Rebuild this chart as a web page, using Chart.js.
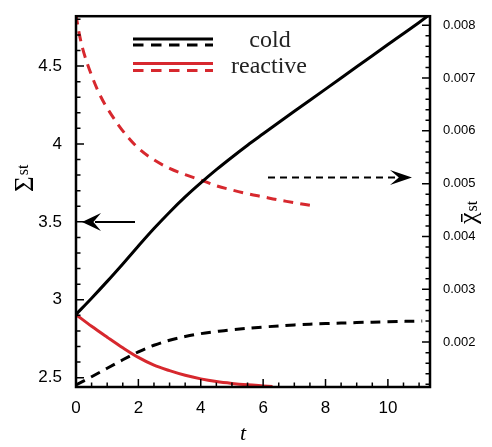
<!DOCTYPE html>
<html>
<head>
<meta charset="utf-8">
<script src="https://cdn.jsdelivr.net/npm/chart.js@4"></script>
<style>
  html, body { margin: 0; padding: 0; background: #fff; }
  canvas { display: block; }
</style>
</head>
<body>
<canvas id="chart" width="492" height="447"></canvas>
<script>
// Sigma_st (left axis), solid lines
const tCold = [0, 0.5, 1, 1.5, 2, 2.5, 3, 3.5, 4, 4.5, 5, 5.5, 6, 7, 8, 9, 10, 11, 11.4];
const sigmaCold = [2.906, 3.01, 3.118, 3.23, 3.345, 3.457, 3.562, 3.66, 3.75, 3.835, 3.915, 3.992, 4.065, 4.21, 4.352, 4.495, 4.638, 4.78, 4.84];
const tReact = [0, 0.5, 1, 1.5, 2, 2.5, 3, 3.5, 4, 4.5, 5, 5.5, 6, 6.3];
const sigmaReact = [2.905, 2.83, 2.76, 2.692, 2.63, 2.58, 2.545, 2.515, 2.492, 2.475, 2.463, 2.454, 2.447, 2.443];

// chi_st (right axis), dashed lines
const tChiCold = [0, 0.5, 1, 1.5, 2, 2.5, 3, 3.5, 4, 4.5, 5, 6, 7, 8, 9, 10, 11.1];
const chiCold = [0.00119, 0.001345, 0.001505, 0.001665, 0.001815, 0.00194, 0.002035, 0.002105, 0.00216, 0.0022, 0.002235, 0.002285, 0.002325, 0.00235, 0.00237, 0.002385, 0.0024];
const tChiReact = [0, 0.1, 0.25, 0.5, 0.75, 1, 1.5, 2, 2.5, 3, 3.5, 4, 4.5, 5, 5.5, 6, 6.5, 7, 7.7];
const chiReact = [0.0082, 0.00785, 0.00748, 0.00705, 0.0067, 0.00643, 0.006, 0.00567, 0.00545, 0.00529, 0.00517, 0.00507, 0.00496, 0.00488, 0.00481, 0.00475, 0.00469, 0.00464, 0.00457];

const xTicks = [0, 2, 4, 6, 8, 10];
const sigmaTicks = [2.5, 3, 3.5, 4, 4.5];
const chiTicks = [0.002, 0.003, 0.004, 0.005, 0.006, 0.007, 0.008];
const legendLabels = ['cold', 'reactive'];

const RED = '#d7282e';
const DASH = [10, 7];

function pts(xs, ys) {
  return xs.map((x, i) => ({x: x, y: ys[i]}));
}

function setTicks(list) {
  return function(scale) { scale.ticks = list.map(v => ({value: v})); };
}

function arrowHead(ctx, tipX, tipY, dir, len, half) {
  ctx.beginPath();
  ctx.moveTo(tipX, tipY);
  ctx.lineTo(tipX - dir * len, tipY - half);
  ctx.lineTo(tipX - dir * len * 0.6, tipY);
  ctx.lineTo(tipX - dir * len, tipY + half);
  ctx.closePath();
  ctx.fill();
}

// inward ticks, frame, titles, legend and arrows
const decor = {
  id: 'decor',
  afterDraw(chart) {
    const ctx = chart.ctx;
    const a = chart.chartArea;
    const sx = chart.scales.x, sl = chart.scales.ySigma, sr = chart.scales.yChi;
    ctx.save();
    ctx.strokeStyle = '#000';
    ctx.fillStyle = '#000';
    ctx.lineWidth = 1.5;

    ctx.beginPath();
    for (let i = 0; i * 0.5 <= sx.max; i++) {
      const px = sx.getPixelForValue(i * 0.5);
      ctx.moveTo(px, a.bottom);
      ctx.lineTo(px, a.bottom - (i % 4 === 0 ? 8 : 4.5));
    }
    for (let i = 25; i * 0.1 <= sl.max; i++) {
      const py = sl.getPixelForValue(i * 0.1);
      ctx.moveTo(a.left, py);
      ctx.lineTo(a.left + (i % 5 === 0 ? 8 : 4.5), py);
    }
    for (let i = 6; i * 0.0002 <= sr.max; i++) {
      const py = sr.getPixelForValue(i * 0.0002);
      ctx.moveTo(a.right, py);
      ctx.lineTo(a.right - (i % 5 === 0 ? 8 : 4.5), py);
    }
    ctx.stroke();

    ctx.lineWidth = 2.5;
    ctx.strokeRect(a.left, a.top, a.right - a.left, a.bottom - a.top);

    // axis titles
    ctx.font = 'italic 22px "Liberation Serif"';
    ctx.textAlign = 'center';
    ctx.fillText('t', 243, 440);

    ctx.textAlign = 'left';
    ctx.save();
    ctx.translate(33, 192);
    ctx.rotate(-Math.PI / 2);
    ctx.font = '27px "Liberation Serif"';
    ctx.fillText('\u03A3', 0, 0);
    const w1 = ctx.measureText('\u03A3').width;
    ctx.font = '16px "Liberation Serif"';
    ctx.fillText('st', w1 + 1, -5);
    ctx.restore();

    ctx.save();
    ctx.translate(476, 224);
    ctx.rotate(-Math.PI / 2);
    ctx.font = '26px "Liberation Serif"';
    ctx.fillText('\u03C7', 0, 0);
    const w2 = ctx.measureText('\u03C7').width;
    ctx.fillRect(2, -15, w2 - 3.5, 1.5);
    ctx.font = '16px "Liberation Serif"';
    ctx.fillText('st', w2 + 1, 1);
    ctx.restore();

    // legend
    const rows = [[39, 45, '#000'], [63.5, 70.5, RED]];
    ctx.lineWidth = 3;
    rows.forEach((r, i) => {
      ctx.strokeStyle = r[2];
      ctx.setLineDash([]);
      ctx.beginPath(); ctx.moveTo(133, r[0]); ctx.lineTo(213, r[0]); ctx.stroke();
      ctx.setLineDash([10.5, 7.5]);
      ctx.beginPath(); ctx.moveTo(133, r[1]); ctx.lineTo(213, r[1]); ctx.stroke();
    });
    ctx.setLineDash([]);
    ctx.font = '24px "Liberation Serif"';
    ctx.textAlign = 'center';
    ctx.fillStyle = '#222';
    ctx.fillText(legendLabels[0], 270, 47);
    ctx.fillText(legendLabels[1], 269, 73);

    // arrows
    ctx.fillStyle = '#000';
    ctx.strokeStyle = '#000';
    ctx.lineWidth = 2;
    ctx.beginPath(); ctx.moveTo(135, 222); ctx.lineTo(95, 222); ctx.stroke();
    arrowHead(ctx, 82, 222, -1, 19, 9);

    ctx.setLineDash([7, 5]);
    ctx.beginPath(); ctx.moveTo(268, 177.5); ctx.lineTo(396, 177.5); ctx.stroke();
    ctx.setLineDash([]);
    arrowHead(ctx, 412, 177.5, 1, 22, 7.5);
    ctx.restore();
  }
};

const ctx = document.getElementById('chart').getContext('2d');
new Chart(ctx, {
  type: 'line',
  data: {
    datasets: [
      {data: pts(tCold, sigmaCold), yAxisID: 'ySigma', borderColor: '#000', borderWidth: 3},
      {data: pts(tReact, sigmaReact), yAxisID: 'ySigma', borderColor: RED, borderWidth: 3},
      {data: pts(tChiCold, chiCold), yAxisID: 'yChi', borderColor: '#000', borderWidth: 3, borderDash: DASH},
      {data: pts(tChiReact, chiReact), yAxisID: 'yChi', borderColor: RED, borderWidth: 3, borderDash: DASH}
    ]
  },
  options: {
    responsive: false,
    animation: false,
    layout: {padding: {top: 5, left: 0, right: 0, bottom: 0}},
    elements: {
      point: {radius: 0},
      line: {tension: 0.35, fill: false}
    },
    plugins: {legend: {display: false}, tooltip: {enabled: false}},
    scales: {
      x: {
        type: 'linear', min: 0, max: 11.35,
        grid: {display: false}, border: {display: false},
        afterBuildTicks: setTicks(xTicks),
        afterFit: s => { s.height = 60; },
        ticks: {color: '#000', padding: 3, font: {family: 'Liberation Sans', size: 17}}
      },
      ySigma: {
        type: 'linear', position: 'left', min: 2.44, max: 4.82,
        grid: {display: false}, border: {display: false},
        afterBuildTicks: setTicks(sigmaTicks),
        afterFit: s => { s.width = 76; },
        ticks: {color: '#000', padding: 6, font: {family: 'Liberation Sans', size: 17},
          callback: v => String(+v.toFixed(2))}
      },
      yChi: {
        type: 'linear', position: 'right', min: 0.00115, max: 0.00817,
        grid: {display: false}, border: {display: false},
        afterBuildTicks: setTicks(chiTicks),
        afterFit: s => { s.width = 62; },
        ticks: {color: '#000', padding: 5, font: {family: 'Liberation Sans', size: 13},
          callback: v => v.toFixed(3)}
      }
    }
  },
  plugins: [decor]
});
</script>
</body>
</html>
